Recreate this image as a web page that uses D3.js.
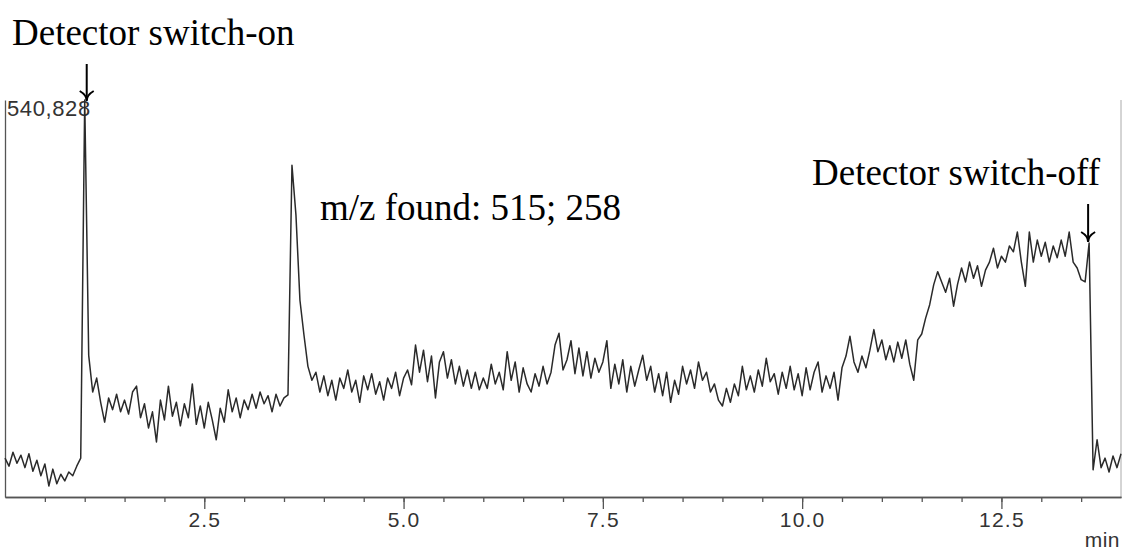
<html lang="en">
<head>
    <meta charset="UTF-8"/>
    <title>Chromatogram</title>
    <script src="https://d3js.org/d3.v7.min.js"></script>
    <style>
        body { margin: 0; background: #fff; }
        .axis path, .axis line { stroke: #555; stroke-width: 1.3; }
        .axis text { font-family: "Liberation Sans", Arial, sans-serif; font-size: 21px; fill: #333; letter-spacing: 1.2px; }
        .note { font-family: "Liberation Serif", "Times New Roman", serif; font-size: 37px; fill: #000; }
    </style>
</head>
<body>
<script>
    // detector signal, thousands of counts, one scan every 0.05 min
    var scanInterval = 0.05;
    var signal = [
        53,42,61,46,57,40,59,35,50,29,45,15,38,18,31,22,34,29,42,53,
        540.828,193,143,162,129,102,135,119,140,116,132,113,143,151,108,127,94,116,75,132,
        105,151,110,129,97,127,108,154,99,124,94,129,105,78,121,102,146,116,135,108,
        132,119,140,121,143,127,138,116,140,124,135,139,452,384,268,221,178,159,170,143,
        165,138,159,132,162,148,173,143,159,129,165,146,168,140,157,132,162,148,170,138,
        162,173,153,207,170,200,157,192,135,184,198,162,187,154,178,151,173,148,170,146,
        162,148,181,154,170,146,198,159,184,143,176,154,143,168,151,178,154,170,207,223,
        173,187,213,168,203,165,198,162,189,170,184,213,148,181,154,187,143,178,151,173,
        193,159,178,143,168,138,170,129,159,140,178,154,173,148,184,159,170,143,154,132,
        124,148,129,154,138,178,146,165,143,173,151,189,157,168,140,170,148,178,146,168,
        138,176,146,170,184,143,165,148,170,132,176,192,219,184,170,192,176,200,228,198,
        214,187,206,184,211,189,214,181,159,214,222,244,262,289,307,293,279,298,260,290,
        312,293,320,298,315,287,309,320,339,312,328,320,342,334,361,320,287,361,320,350,
        328,347,320,342,326,350,328,361,320,312,296,293,346,37,78,40,53,34,56,40,
        59
    ];
    var signalMax = 540.828;          // top of the y axis, thousands of counts
    var xMax = 14;                    // min
    var majorTicks = [2.5, 5.0, 7.5, 10.0, 12.5];
    var minorTicks = d3.range(0.5, 14, 0.5);

    var switchOnTime = 1.0;
    var switchOffTime = 13.6;

    var w = 1132;
    var h = 550;

    var svg = d3.select("body")
                .append("svg")
                .attr("width", w)
                .attr("height", h);

    var xScale = d3.scaleLinear()
                    .domain([0, xMax])
                    .range([5, 1121]);

    var yScale = d3.scaleLinear()
                    .domain([0, signalMax])
                    .range([497, 100]);

    // right frame
    svg.append("line")
        .attr("x1", xScale(xMax)).attr("x2", xScale(xMax))
        .attr("y1", yScale(signalMax)).attr("y2", yScale(0))
        .attr("stroke", "#aaa")
        .attr("stroke-width", 1);

    // minor ticks
    svg.append("g")
        .attr("class", "axis")
        .attr("transform", "translate(0," + yScale(0) + ")")
        .call(d3.axisBottom(xScale).tickValues(minorTicks).tickSize(5).tickSizeOuter(0).tickFormat(""));

    // major ticks + labels
    svg.append("g")
        .attr("class", "axis")
        .attr("transform", "translate(0," + yScale(0) + ")")
        .call(d3.axisBottom(xScale).tickValues(majorTicks).tickSize(12).tickSizeOuter(0).tickFormat(d3.format(".1f")));

    // left axis line only
    svg.append("g")
        .attr("class", "axis")
        .attr("transform", "translate(" + xScale(0) + ",0)")
        .call(d3.axisLeft(yScale).tickValues([]).tickSizeOuter(0));

    svg.append("text")
        .attr("x", xScale(0) + 2)
        .attr("y", yScale(signalMax) + 16)
        .attr("font-family", "Liberation Sans, Arial, sans-serif")
        .attr("font-size", 22)
        .attr("letter-spacing", 0.6)
        .attr("fill", "#333")
        .text(d3.format(",")(Math.round(signalMax * 1000)));

    svg.append("text")
        .attr("x", xScale(xMax) - 1)
        .attr("y", 547)
        .attr("text-anchor", "end")
        .attr("font-family", "Liberation Sans, Arial, sans-serif")
        .attr("font-size", 21)
        .attr("letter-spacing", 0.5)
        .attr("fill", "#333")
        .text("min");

    // trace
    var line = d3.line()
                .x(function(d, i) { return xScale(i * scanInterval); })
                .y(function(d) { return yScale(d); });

    svg.append("path")
        .datum(signal)
        .attr("d", line)
        .attr("fill", "none")
        .attr("stroke", "#2a2a2a")
        .attr("stroke-width", 1.5)
        .attr("stroke-linejoin", "round");

    // annotations
    function arrow(x, y1, y2) {
        svg.append("line")
            .attr("x1", x).attr("x2", x)
            .attr("y1", y1).attr("y2", y2 - 1)
            .attr("stroke", "#000")
            .attr("stroke-width", 2);
        svg.append("path")
            .attr("d", "M" + (x - 7) + "," + (y2 - 10) + " Q" + x + "," + (y2 - 6) + " " + x + "," + y2 +
                       " Q" + x + "," + (y2 - 6) + " " + (x + 7) + "," + (y2 - 10))
            .attr("fill", "none")
            .attr("stroke", "#000")
            .attr("stroke-width", 2);
    }

    svg.append("text")
        .attr("class", "note")
        .attr("x", 12)
        .attr("y", 45)
        .text("Detector switch-on");
    arrow(xScale(switchOnTime) + 2, 64, 101);

    svg.append("text")
        .attr("class", "note")
        .attr("x", 320)
        .attr("y", 220)
        .text("m/z found: 515; 258");

    svg.append("text")
        .attr("class", "note")
        .attr("x", 1100)
        .attr("y", 185)
        .attr("text-anchor", "end")
        .text("Detector switch-off");
    arrow(xScale(switchOffTime) - 1, 204, 242);
</script>
</body>
</html>
